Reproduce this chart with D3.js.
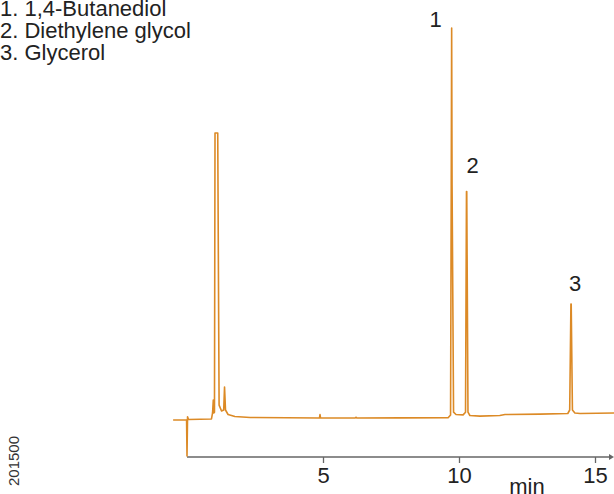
<!DOCTYPE html>
<html>
<head>
<meta charset="utf-8">
<script src="https://cdn.jsdelivr.net/npm/d3@7"></script>
<style>
  html, body { margin: 0; padding: 0; background: #fff; }
  svg { display: block; }
  text { font-family: "Liberation Sans", Arial, Helvetica, sans-serif; }
</style>
</head>
<body>
<svg id="chart" width="614" height="494"></svg>
<script>
// ---- data ----
// retention time (min) of each trace vertex
const times = [
  -0.51, -0.015, 0.0, 0.02, 0.055, 0.90, 0.94, 0.967, 0.985, 1.01,
  1.03, 1.13, 1.18, 1.27, 1.35, 1.38, 1.415, 1.51, 1.76, 2.32,
  4.87, 4.89, 4.91, 6.18, 6.21, 6.25, 7.83, 9.60, 9.69, 9.715,
  9.73, 9.745, 9.80, 9.89, 10.15, 10.24, 10.275, 10.285, 10.33, 10.40,
  10.77, 11.50, 11.69, 12.98, 14.00, 14.07, 14.115, 14.125, 14.17, 14.26,
  14.45, 15.70
];
// detector signal (relative units, 0 = initial baseline, 100 = peak 1 apex)
const signal = [
  0.0, 0.0, -9.2, 0.8, 0.13, 0.26, 1.8, 5.1, 1.8, 2.0,
  73.2, 73.2, 3.8, 2.3, 2.55, 8.4, 2.55, 1.4, 0.9, 0.64,
  0.5, 1.4, 0.5, 0.5, 0.7, 0.5, 0.55, 0.56, 1.3, 60.0,
  100.0, 60.0, 2.0, 1.4, 1.3, 2.0, 58.3, 58.3, 2.0, 1.15,
  1.0, 1.15, 1.4, 1.5, 1.66, 2.55, 29.6, 29.6, 2.55, 1.8,
  1.66, 1.8
];
const peakIds = ["1", "2", "3"];
const peakTimes = [9.73, 10.28, 14.12];
const peakHeights = [100.0, 58.3, 29.6];
const legendLines = ["1. 1,4-Butanediol", "2. Diethylene glycol", "3. Glycerol"];
const tickValues = [5, 10, 15];
const axisLabel = "min";
const sideCode = "201500";

// ---- drawing ----
const svg = d3.select("#chart");
const traceColor = "#dc8a26";

const x = d3.scaleLinear().domain([0, 15]).range([187, 595]);
const y = d3.scaleLinear().domain([0, 100]).range([420, 28]);
const axisY = 457;

// axis
const axis = d3.axisBottom(x).tickValues(tickValues).tickSize(6).tickPadding(4)
  .tickFormat(d3.format("d"));
const gAxis = svg.append("g").attr("transform", `translate(0,${axisY})`).call(axis);
gAxis.select(".domain").remove();
gAxis.insert("line", ":first-child")
  .attr("x1", x(0)).attr("x2", 611).attr("y1", 0).attr("y2", 0)
  .attr("stroke", "#666").attr("stroke-width", 1.5);
gAxis.append("path")
  .attr("d", "M609,-3 L614,0 L609,3 Z")
  .attr("fill", "#666");
gAxis.selectAll(".tick line").attr("stroke", "#666").attr("stroke-width", 1.3);
gAxis.selectAll(".tick text").attr("font-size", 22).attr("fill", "#222")
  .attr("font-family", "'Liberation Sans', Arial, Helvetica, sans-serif");

svg.append("text").attr("x", 527).attr("y", 494)
  .attr("text-anchor", "middle").attr("font-size", 22).attr("fill", "#222")
  .text(axisLabel);

// trace
const pts = times.map((t, i) => [t, signal[i]]);
const line = d3.line().x(d => x(d[0])).y(d => y(d[1]));
svg.append("path").datum(pts)
  .attr("d", line)
  .attr("fill", "none")
  .attr("stroke", traceColor)
  .attr("stroke-width", 1.6)
  .attr("stroke-linejoin", "round");

// peak labels
svg.selectAll(".plabel").data(peakIds).enter().append("text")
  .attr("class", "plabel")
  .attr("x", (d, i) => x(peakTimes[i]) - [16, -6, -4][i])
  .attr("y", (d, i) => y(peakHeights[i]) - [1, 18, 13][i])
  .attr("text-anchor", "middle")
  .attr("font-size", 22).attr("fill", "#222")
  .text(d => d);

// legend
svg.selectAll(".leg").data(legendLines).enter().append("text")
  .attr("class", "leg")
  .attr("x", 0).attr("y", (d, i) => 16 + i * 22)
  .attr("font-size", 22).attr("fill", "#222")
  .text(d => d);

// side code
svg.append("text")
  .attr("transform", "translate(19,461) rotate(-90)")
  .attr("text-anchor", "middle")
  .attr("font-size", 15).attr("fill", "#333")
  .text(sideCode);
</script>
</body>
</html>
